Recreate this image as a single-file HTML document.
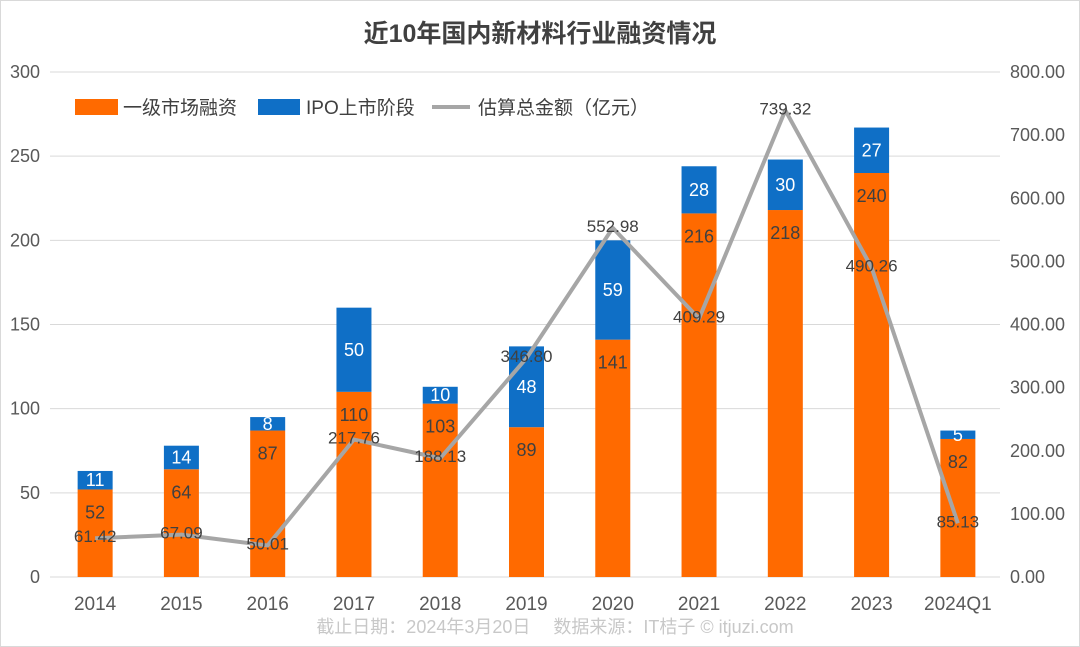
<!DOCTYPE html>
<html><head><meta charset="utf-8"><style>
body{margin:0;background:#fff;}
svg{display:block;font-family:"Liberation Sans","Noto Sans CJK SC",sans-serif;}
</style></head><body>
<svg id="c" width="1080" height="647">
<rect x="0.5" y="0.5" width="1079" height="646" fill="#fff" stroke="#d9d9d9"/>
<text x="540" y="42" text-anchor="middle" font-size="25" font-weight="bold" fill="#404040">近10年国内新材料行业融资情况</text>
<g id="grid"></g><g id="bars"></g><g id="line"></g><g id="labels"></g>
<g>
<rect x="75" y="99" width="43" height="16" fill="#ff6a00"/>
<text x="123" y="114" font-size="19" fill="#404040">一级市场融资</text>
<rect x="258" y="99" width="42" height="16" fill="#0f6fc6"/>
<text x="306" y="114" font-size="19" fill="#404040">IPO上市阶段</text>
<line x1="432" y1="107" x2="470" y2="107" stroke="#a6a6a6" stroke-width="4"/>
<text x="478" y="114" font-size="19" fill="#404040">估算总金额（亿元）</text>
</g>
<text x="555" y="633" text-anchor="middle" font-size="18" fill="#c8c8c8">截止日期：2024年3月20日　 数据来源：IT桔子 © itjuzi.com</text>
</svg>
<script>
const categories=["2014","2015","2016","2017","2018","2019","2020","2021","2022","2023","2024Q1"];
const primaryValues=[52,64,87,110,103,89,141,216,218,240,82];
const ipoValues=[11,14,8,50,10,48,59,28,30,27,5];
const totalValues=[61.42,67.09,50.01,217.76,188.13,346.80,552.98,409.29,739.32,490.26,85.13];
const leftTicks=[0,50,100,150,200,250,300];
const rightTicks=[0,100,200,300,400,500,600,700,800];
const NS="http://www.w3.org/2000/svg";
const x0=52,x1=1001,yB=577,yT=72,bw=35;
const step=(x1-x0)/categories.length;
const xc=i=>x0+step*(i+0.5);
const yL=v=>yB-(v/300)*(yB-yT);
const yR=v=>yB-(v/800)*(yB-yT);
function mk(tag,at,parent,txt){const e=document.createElementNS(NS,tag);for(const k in at)e.setAttribute(k,at[k]);if(txt!==undefined)e.textContent=txt;document.getElementById(parent).appendChild(e);return e;}
leftTicks.forEach(v=>{
 const l=mk("line",{x1:50,x2:1000,y1:yL(v),y2:yL(v),stroke:"#d9d9d9","stroke-width":1},"grid");
 
 
 const t=mk("text",{x:40,y:yL(v)+6,"text-anchor":"end","font-size":18,fill:"#595959"},"grid",String(v));
 
 
});
rightTicks.forEach(v=>{
 const t=mk("text",{x:1010,y:yR(v)+6,"font-size":18,fill:"#595959"},"grid",v.toFixed(2));
 
 
});
categories.forEach((c,i)=>{
 const t=mk("text",{x:xc(i),y:610,"text-anchor":"middle","font-size":19,fill:"#595959"},"grid",c);
 
 
 const p=primaryValues[i],q=ipoValues[i];
 const r1=mk("rect",{x:xc(i)-bw/2,y:yL(p),width:bw,height:yB-yL(p),fill:"#ff6a00"},"bars");
 
 
 const r2=mk("rect",{x:xc(i)-bw/2,y:yL(p+q),width:bw,height:yL(p)-yL(p+q),fill:"#0f6fc6"},"bars");
 
 
 const a=mk("text",{x:xc(i),y:yL(p)+29,"text-anchor":"middle","font-size":18,fill:"#404040"},"labels",String(p));
 
 
 const b=mk("text",{x:xc(i),y:(yL(p)+yL(p+q))/2+6,"text-anchor":"middle","font-size":18,fill:"#fff"},"labels",String(q));
 
 
 const d=mk("text",{x:xc(i),y:yR(totalValues[i])+4,"text-anchor":"middle","font-size":17,fill:"#404040"},"labels",totalValues[i].toFixed(2));
 
 
});
const pl=mk("polyline",{points:totalValues.map((v,i)=>xc(i)+","+yR(v)).join(" "),fill:"none",stroke:"#a6a6a6","stroke-width":4,"stroke-linejoin":"round"},"line");


</script>
</body></html>
